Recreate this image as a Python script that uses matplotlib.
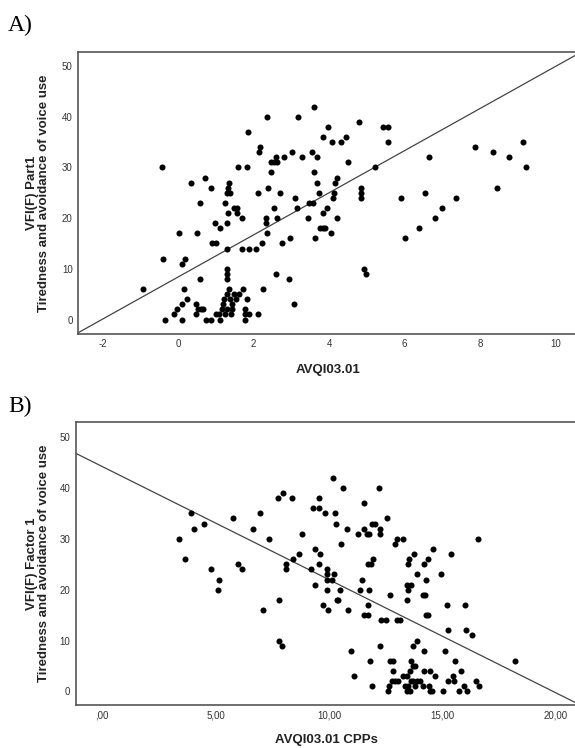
import matplotlib
matplotlib.use("Agg")
import matplotlib.pyplot as plt
from matplotlib.ticker import FuncFormatter, MultipleLocator

plt.rcParams['font.family'] = ['Liberation Sans', 'DejaVu Sans']
plt.rcParams['axes.unicode_minus'] = False

# ---- Panel A: AVQI03.01 vs VFI(F) Part1 ----
avqi_x = [-0.93, -0.36, -0.11, -0.02, 0.11, 0.11, 0.16, 0.23, 0.47, 0.48, 0.52, 0.60, 0.66,
          0.73, 0.87, 1.00, 1.08, 1.11, 1.15, 1.19, 1.22, 1.28, 1.30, 1.24, 1.35, 1.37, 1.42,
          1.40, 1.42, 1.48, 1.53, 1.61, 1.72, 1.77, 1.78, 1.77, 1.81, 1.88, 2.12, 2.24, 3.07,
          -0.44, -0.40, 0.03, 0.11, 0.18, 0.35, 0.50, 0.58, 0.59, 0.70, 0.88, 0.90, 1.00, 0.97,
          1.11, 1.25, 1.30, 1.28, 1.30, 1.32, 1.33, 1.35, 1.38, 1.28, 1.28, 1.28, 1.48, 1.55,
          1.55, 1.59, 1.70, 1.70, 1.81, 1.84, 1.87, 2.05, 2.12, 2.14, 2.18, 2.22, 2.35, 2.34,
          2.34, 2.35, 2.38, 2.45, 2.45, 2.53, 2.59, 2.62, 2.54, 2.59, 2.63, 2.70, 2.76, 2.80,
          2.93, 2.96, 3.02, 3.09, 3.14, 3.18, 3.29, 3.44, 3.48, 3.55, 3.58, 3.60, 3.60, 3.63,
          3.67, 3.69, 3.74, 3.76, 3.83, 3.83, 3.83, 3.89, 3.94, 3.98, 4.06, 4.08, 4.10, 4.12,
          4.16, 4.22, 4.22, 4.31, 4.45, 4.49, 4.78, 4.84, 4.84, 4.84, 4.93, 4.97, 5.21, 5.43,
          5.57, 5.57, 5.91, 6.01, 6.39, 6.54, 6.66, 6.82, 7.00, 7.37, 7.88, 8.35, 8.46, 8.76,
          9.15, 9.22]
vfi_a = [6, 0, 1, 2, 3, 0, 6, 4, 3, 1, 2, 2, 2,
         0, 0, 1, 1, 0, 2, 3, 4, 5, 2, 1, 6, 4, 3,
         1, 2, 5, 4, 5, 6, 1, 2, 0, 4, 1, 1, 6, 3,
         30, 12, 17, 11, 12, 27, 17, 8, 23, 28, 26, 15, 15, 19,
         18, 23, 19, 25, 14, 21, 26, 27, 25, 10, 9, 8, 22, 22,
         21, 30, 14, 20, 30, 37, 14, 14, 25, 33, 34, 15, 40, 20,
         19, 17, 26, 31, 29, 31, 32, 31, 22, 9, 20, 25, 15, 32,
         8, 16, 33, 24, 22, 40, 32, 20, 23, 33, 23, 42, 29, 16,
         32, 27, 25, 18, 36, 21, 18, 18, 22, 38, 17, 35, 24, 25,
         27, 28, 20, 35, 36, 31, 39, 26, 25, 24, 10, 9, 30, 38,
         38, 35, 24, 16, 18, 25, 32, 20, 22, 24, 34, 33, 26, 32,
         35, 30]
fit_a = (8.4, 4.15)  # intercept, slope of the drawn fit line

# ---- Panel B: AVQI03.01 CPPs vs VFI(F) Factor 1 ----
cpps_x = [3.39, 3.64, 3.89, 4.04, 4.47, 4.77, 5.14, 5.11, 5.74, 5.97, 6.16, 6.65, 6.95, 7.08,
          7.36, 7.76, 7.98, 8.37, 7.80, 7.80, 7.91, 8.39, 8.10, 8.10, 8.67, 8.79,
          9.21, 9.30, 9.56, 9.56, 9.81, 10.15, 10.26, 10.29, 10.59, 10.77, 11.53, 12.21, 12.54,
          9.36, 9.39, 9.59, 9.56, 9.92, 9.92, 9.92, 10.22, 10.14, 9.89, 10.48, 10.33, 10.40,
          9.71, 9.96, 10.84, 10.52,
          11.27, 11.53, 11.68, 11.77, 11.89, 12.03, 12.25, 12.25,
          11.45, 11.36, 11.77, 11.71, 11.55, 11.72, 11.71, 11.86, 11.95,
          12.68, 12.30, 12.50, 12.98, 13.12, 12.90, 12.98, 13.27,
          13.47, 13.51, 13.74, 13.42, 13.62, 13.47, 13.42, 13.86,
          14.18, 14.37, 14.56, 14.27, 14.12, 14.22, 14.27, 14.36,
          14.94, 15.36, 15.21, 15.97, 16.55, 15.24, 16.03, 16.30,
          10.95, 12.24, 11.80, 11.09, 11.89, 12.68, 12.80, 13.68, 13.88, 14.18, 15.09, 15.53, 18.21,
          13.59, 13.68, 13.77, 12.83, 13.27, 13.42, 13.56, 14.20, 14.45, 14.66, 15.81, 15.47,
          15.50, 15.22, 16.47, 16.59,
          12.65, 12.75, 12.90, 13.05, 12.61, 13.34, 13.42, 13.49, 13.56, 13.59, 13.71, 13.78,
          13.86, 14.00, 14.12, 14.41, 14.44, 14.52, 15.03, 15.72, 15.94, 16.09]
vfi_b = [30, 26, 35, 32, 33, 24, 22, 20, 34, 25, 24, 32, 35, 16,
         30, 38, 39, 38, 18, 10, 9, 26, 24, 25, 27, 31,
         24, 36, 36, 38, 35, 42, 35, 33, 40, 32, 37, 40, 34,
         21, 28, 27, 25, 24, 23, 22, 23, 22, 20, 20, 18, 18,
         17, 16, 16, 29,
         31, 32, 31, 31, 33, 33, 32, 31,
         22, 20, 20, 17, 15, 15, 25, 25, 26,
         19, 14, 14, 14, 14, 29, 30, 30,
         25, 26, 27, 21, 21, 20, 18, 23,
         25, 26, 28, 22, 19, 19, 15, 15,
         23, 27, 17, 17, 30, 12, 12, 11,
         8, 9, 6, 3, 1, 6, 6, 9, 10, 8, 8, 6, 6,
         6, 5, 5, 4, 3, 3, 4, 4, 4, 3, 4, 3,
         2, 2, 2, 1,
         1, 2, 2, 2, 0, 1, 0, 1, 0, 2, 2, 1,
         2, 2, 1, 1, 0, 0, 0, 0, 1, 0]
fit_b = (44.2, -2.224)

W, H = 575, 748
fig = plt.figure(figsize=(W / 100, H / 100), dpi=100)
fig.patch.set_facecolor('white')


def style_axes(ax):
    for side in ['left', 'bottom', 'top']:
        ax.spines[side].set_color('#555555')
        ax.spines[side].set_linewidth(1.2)
    ax.spines['right'].set_visible(False)
    ax.tick_params(length=0, pad=4, labelsize=7, colors='#333333')
    ax.yaxis.set_major_locator(MultipleLocator(10))


def px_axes(left, top, right, bottom):
    return fig.add_axes([left / W, 1 - bottom / H, (right - left) / W, (bottom - top) / H])


# Panel A
ax1 = px_axes(78.3, 52.3, 578, 333.7)
ax1.scatter(avqi_x, vfi_a, s=19, color='black', linewidths=0, zorder=3)
ax1.axline((0, fit_a[0]), slope=fit_a[1], color='#444444', linewidth=0.9, zorder=2)
ax1.set_xlim(-2.65, 10.60)
ax1.set_ylim(-2.8, 52.7)
ax1.xaxis.set_major_locator(MultipleLocator(2))
style_axes(ax1)

fig.text(8 / W, 1 - 31 / H, 'A)', family='Liberation Serif', fontsize=17, va='baseline', ha='left')
fig.text(328 / W, 1 - 370 / H, 'AVQI03.01', fontsize=9.5, fontweight='bold',
         ha='center', va='center', color='#222222')
fig.text(38.3 / W, 1 - 193 / H, 'VFI(F) Part1\nTiredness and avoidance of voice use',
         fontsize=9.5, fontweight='bold', rotation=90, ha='center', va='center',
         multialignment='center', linespacing=1.0, color='#222222')

# Panel B
ax2 = px_axes(76, 422.3, 578, 704.7)
ax2.scatter(cpps_x, vfi_b, s=19, color='black', linewidths=0, zorder=3)
ax2.axline((0, fit_b[0]), slope=fit_b[1], color='#444444', linewidth=0.9, zorder=2)
ax2.set_xlim(-1.16, 20.97)
ax2.set_ylim(-2.6, 52.9)
ax2.xaxis.set_major_locator(MultipleLocator(5))


def spss_fmt(v, pos):
    s = f"{v:.2f}".replace('.', ',')
    if s.startswith('0,'):
        s = s[1:]
    return s


ax2.xaxis.set_major_formatter(FuncFormatter(spss_fmt))
style_axes(ax2)

fig.text(8 / W, 1 - 412.3 / H, 'B)', family='Liberation Serif', fontsize=17, va='baseline', ha='left')
fig.text(326.7 / W, 1 - 740 / H, 'AVQI03.01 CPPs', fontsize=9.5, fontweight='bold',
         ha='center', va='center', color='#222222')
fig.text(38.3 / W, 1 - 563.5 / H, 'VFI(F) Factor 1\nTiredness and avoidance of voice use',
         fontsize=9.5, fontweight='bold', rotation=90, ha='center', va='center',
         multialignment='center', linespacing=1.0, color='#222222')

fig.savefig('out.png', dpi=100, facecolor='white')
